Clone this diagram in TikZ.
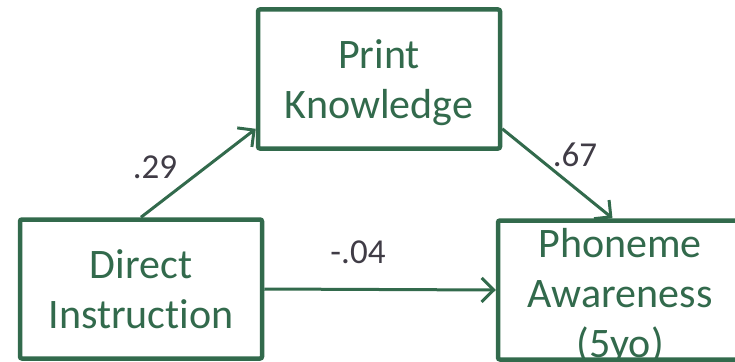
\documentclass[tikz,border=0pt]{standalone}
\usepackage{fontspec}
\setmainfont[Ligatures=NoCommon]{Carlito}
\usetikzlibrary{positioning,arrows.meta}
\definecolor{pathgreen}{RGB}{50,106,76}
\definecolor{coefgray}{RGB}{64,60,70}
\tikzset{
  pathcurve/.style={-{Straight Barb[length=12pt, width=24pt]}, line width=3pt, draw=pathgreen},
  varbox/.style={draw=pathgreen, line width=4.5pt, rounded corners=2pt, fill=white, minimum width=242pt, minimum height=139pt, align=center, text=pathgreen, font=\fontsize{42}{50}\selectfont},
  vartext/.style={align=center, text=pathgreen, font=\fontsize{42}{50}\selectfont},
  coef/.style={text=coefgray, font=\fontsize{35}{40}\selectfont, inner sep=1pt}
}
\begin{document}
\begin{tikzpicture}[x=1pt, y=-1pt]
  \useasboundingbox (0,0) rectangle (735,361);
  \clip (0,0) rectangle (735,361);
  \node[varbox] (pk) at (379,79) {};
  \node[vartext] (pktext) at (379,83) {Print\\ Knowledge};
  \node[varbox] (di) at (141,289) {Direct\\ Instruction};
  \node[varbox, minimum width=244pt] (pa) at (620,290) {};
  \node[vartext] (patext) at (620,296) {Phoneme\\ Awareness\\ (5yo)};
  \draw[pathcurve] (di.north) -- (pk.202);
  \draw[pathcurve] (pk.-22) -- (pa.96);
  \draw[pathcurve] (di.east) -- (pa.west);
  \node[coef] (b29) at (155,167) {.29};
  \node[coef] (b67) at (575,155) {.67};
  \node[coef] (b04) at (358,252) {-.04};
\end{tikzpicture}
\end{document}
